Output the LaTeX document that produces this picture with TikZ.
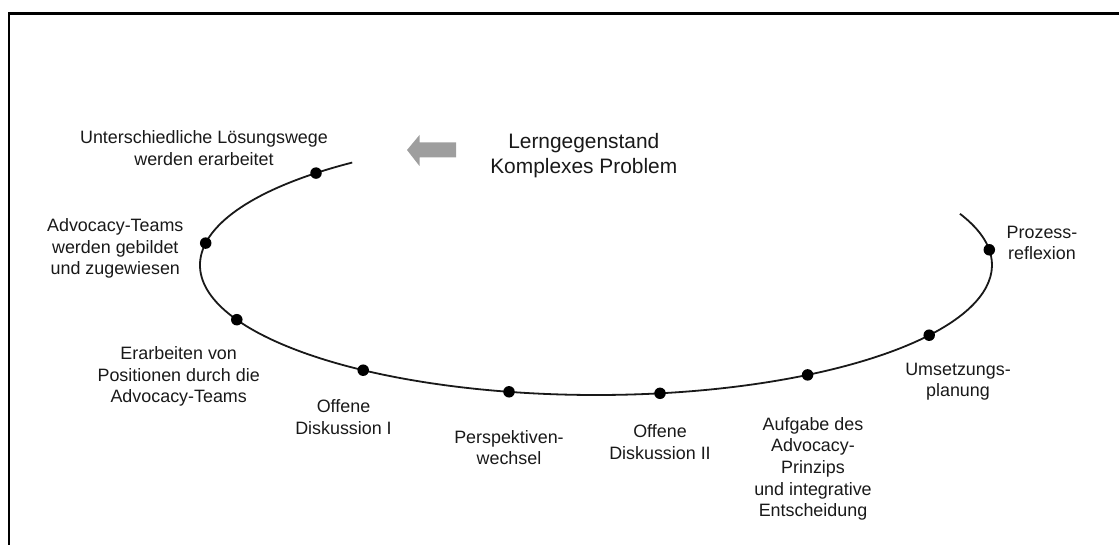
\documentclass[tikz,border=0pt]{standalone}
\usepackage{fontspec}
\setmainfont{Liberation Sans}
\begin{document}
\begin{tikzpicture}[x=1pt,y=-1pt,
  lbl/.style={font=\fontsize{17.9}{21.7}\selectfont, align=center, inner sep=0pt, anchor=base, text=black!90},
  ttl/.style={font=\fontsize{20.9}{24.3}\selectfont, align=center, inner sep=0pt, anchor=base, text=black!90},
  dot/.style={circle, fill=black, inner sep=0pt, minimum size=11.5pt},
  curve/.style={line width=1.8pt, black!90},
  frame/.style={line width=2.4pt, black}]
\useasboundingbox (0,0) rectangle (1119,545);
% frame (cropped)
\coordinate (fbl) at (9,546);
\coordinate (ftl) at (9,13.5);
\coordinate (ftr) at (1120,13.5);
\draw[frame] (fbl) -- (ftl) -- (ftr);
% cycle curve
\coordinate (c) at (596,265);
\draw[curve] ([shift={(232:396 and 130)}]c) arc[start angle=232, end angle=-23.2, x radius=396, y radius=130];
% dots on the curve
\node[dot] (d1) at (316.0,173.1) {};
\node[dot] (d2) at (205.7,243.1) {};
\node[dot] (d3) at (236.8,319.7) {};
\node[dot] (d4) at (363.2,370.2) {};
\node[dot] (d5) at (509.0,391.8) {};
\node[dot] (d6) at (660.0,393.3) {};
\node[dot] (d7) at (807.6,374.9) {};
\node[dot] (d8) at (929.2,335.2) {};
\node[dot] (d9) at (989.3,249.8) {};
% gray arrow
\fill[black!38] (407,150) -- (419.5,135) -- (419.5,142.5) -- (456,142.5) -- (456,157.5) -- (419.5,157.5) -- (419.5,166) -- cycle;
% labels (anchor = baseline of last line)
\node[ttl] (t) at (583.8,173.3) {Lerngegenstand\\Komplexes Problem};
\node[lbl] (l1) at (204,165.7) {Unterschiedliche Lösungswege\\werden erarbeitet};
\node[lbl] (l2) at (115.3,275) {Advocacy-Teams\\werden gebildet\\und zugewiesen};
\node[lbl] (l3) at (178.7,402.7) {Erarbeiten von\\Positionen durch die\\Advocacy-Teams};
\node[lbl] (l4) at (343.5,434) {Offene\\Diskussion I};
\node[lbl] (l5) at (509,464.7) {Perspektiven-\\wechsel};
\node[lbl] (l6) at (660,459.2) {Offene\\Diskussion II};
\node[lbl] (l7) at (813,516.8) {Aufgabe des\\Advocacy-\\Prinzips\\und integrative\\Entscheidung};
\node[lbl] (l8) at (958,396.7) {Umsetzungs-\\planung};
\node[lbl] (l9) at (1042,260) {Prozess-\\reflexion};
\end{tikzpicture}
\end{document}
